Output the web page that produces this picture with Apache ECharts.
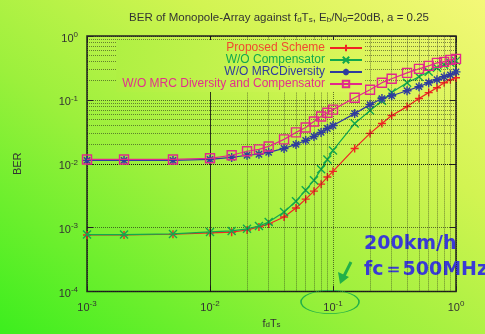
<!DOCTYPE html>
<html>
<head>
<meta charset="utf-8">
<script src="https://cdn.jsdelivr.net/npm/echarts@6/dist/echarts.min.js"></script>
<style>
  html, body { margin: 0; padding: 0; }
  #chart {
    width: 485px; height: 334px;
    background: linear-gradient(to top right, #3cee1e 0%, #9cf03c 40%, #d2f452 70%, #f4f878 100%);
  }
</style>
</head>
<body>
<div id="chart"></div>
<script>
// fdTs values (x axis)
const fdTs = [0.001, 0.002, 0.005, 0.01, 0.015, 0.02, 0.025, 0.03, 0.04, 0.05, 0.06, 0.07, 0.08, 0.09,
  0.1, 0.15, 0.2, 0.25, 0.3, 0.4, 0.5, 0.6, 0.7, 0.8, 0.9, 1.0];

// BER curves
const berProposed = [0.00077, 0.00077, 0.00079, 0.00083, 0.00085, 0.00092, 0.00103, 0.00114, 0.00147, 0.00203,
  0.0028, 0.00373, 0.0048, 0.0062, 0.0076, 0.0174, 0.0299, 0.0427, 0.0569, 0.0785, 0.105, 0.13, 0.155, 0.186, 0.207, 0.222];
const berNoComp = [0.00078, 0.00078, 0.0008, 0.00086, 0.00089, 0.00096, 0.00106, 0.00123, 0.00176, 0.0026,
  0.00387, 0.00554, 0.0082, 0.0117, 0.0162, 0.0427, 0.068, 0.097, 0.13, 0.186, 0.23, 0.275, 0.318, 0.354, 0.38, 0.408];
const berNoMrc = [0.0113, 0.0113, 0.0113, 0.0117, 0.0126, 0.0136, 0.0141, 0.0151, 0.0174, 0.0201,
  0.0232, 0.0268, 0.031, 0.0357, 0.0397, 0.061, 0.0843, 0.105, 0.116, 0.139, 0.161, 0.186, 0.207, 0.23, 0.247, 0.275];
const berNoBoth = [0.0117, 0.0117, 0.0117, 0.0122, 0.0136, 0.0157, 0.0168, 0.0187, 0.0241, 0.031,
  0.037, 0.0458, 0.055, 0.063, 0.0705, 0.108, 0.144, 0.186, 0.214, 0.265, 0.306, 0.341, 0.38, 0.394, 0.423, 0.438];

const seriesNames = ['Proposed Scheme', 'W/O Compensator', 'W/O MRCDiversity', 'W/O MRC Diversity and Compensator'];
const lineColors = ['#f02424', '#12a84e', '#2f3c9e', '#e2288c'];
const textColors = ['#f04a30', '#12a84e', '#2f3c9e', '#e2308c'];

// minor grid positions (2..9 x 10^k)
const minorX = [];
for (let k = -3; k < 0; k++) for (let m = 2; m <= 9; m++) minorX.push(+(m * Math.pow(10, k)).toPrecision(3));
const minorY = [];
for (let k = -4; k < 0; k++) for (let m = 2; m <= 9; m++) minorY.push(+(m * Math.pow(10, k)).toPrecision(3));

const symPlus = 'path://M0,5L10,5M5,0L5,10';
const symCross = 'path://M0,0L10,10M0,10L10,0';
const symStar = 'path://M0,5L10,5M5,0L5,10M1.5,1.5L8.5,8.5M1.5,8.5L8.5,1.5';

const font = 'Liberation Sans, Arial, sans-serif';
const powRich = {
  b: { fontSize: 11, lineHeight: 16, color: '#333', fontFamily: font },
  sup: { fontSize: 8, lineHeight: 8, verticalAlign: 'top', color: '#333', fontFamily: font }
};
function powLabel(v) {
  return '{b|10}{sup|' + Math.round(Math.log10(v)) + '}';
}

function mkSeries(i, data, symbol, size) {
  return {
    name: seriesNames[i], type: 'line',
    data: fdTs.map((x, j) => [x, data[j]]),
    symbol: symbol, symbolSize: size,
    lineStyle: { color: lineColors[i], width: 1.2 },
    itemStyle: { color: 'rgba(0,0,0,0)', borderColor: lineColors[i], borderWidth: 1.4 },
    z: 3 + i
  };
}

const gridLine = { type: 'dotted', color: 'rgba(20,20,20,0.6)', width: 1 };

const chart = echarts.init(document.getElementById('chart'));
chart.setOption({
  animation: false,
  title: {
    text: 'BER of Monopole-Array against f{s|d}T{s|s}, E{s|b}/N{s|0}=20dB, a = 0.25',
    left: 274, top: 7, textAlign: 'center',
    textStyle: {
      fontSize: 11.5, fontWeight: 'normal', color: '#333', fontFamily: font,
      rich: {
        s: { fontSize: 8, lineHeight: 8, verticalAlign: 'bottom', color: '#333', fontFamily: font }
      }
    }
  },
  grid: {
    left: 87, right: 29, top: 36, bottom: 41,
    show: true, borderColor: '#222', borderWidth: 1.5
  },
  legend: {
    orient: 'vertical', right: 120, top: 40, align: 'right', z: 10,
    itemWidth: 32, itemHeight: 8, itemGap: 0,
    padding: [2, 2, 2, 6],
    backgroundColor: new echarts.graphic.LinearGradient(0, 1, 1, 0, [
      { offset: 0, color: '#aef042' }, { offset: 1, color: '#def65c' }
    ]),
    textStyle: { fontSize: 12, lineHeight: 10, fontFamily: font },
    data: seriesNames.map((n, i) => ({ name: n, textStyle: { color: textColors[i] } }))
  },
  xAxis: [{
    type: 'log', logBase: 10, min: 0.001, max: 1,
    name: 'f{s|d}T{s|s}', nameLocation: 'middle', nameGap: 24,
    nameTextStyle: {
      fontSize: 11, color: '#333', fontFamily: font,
      rich: { s: { fontSize: 8, lineHeight: 8, verticalAlign: 'bottom', color: '#333' } }
    },
    axisLine: { show: false },
    axisTick: { inside: true, length: 6, lineStyle: { color: '#222' } },
    axisLabel: { formatter: powLabel, rich: powRich, margin: 8 },
    splitLine: { show: true, lineStyle: gridLine }
  }, {
    type: 'log', logBase: 10, min: 0.001, max: 1, position: 'top',
    axisLine: { show: false },
    axisTick: { inside: true, length: 6, lineStyle: { color: '#222' } },
    axisLabel: { show: false }, splitLine: { show: false }
  }],
  yAxis: [{
    type: 'log', logBase: 10, min: 0.0001, max: 1,
    name: 'BER', nameLocation: 'middle', nameGap: 64, nameRotate: 90,
    nameTextStyle: { fontSize: 11, color: '#333', fontFamily: font },
    axisLine: { show: false },
    axisTick: { inside: true, length: 6, lineStyle: { color: '#222' } },
    axisLabel: { formatter: powLabel, rich: powRich, margin: 9, padding: [5, 0, 0, 0] },
    splitLine: { show: true, lineStyle: gridLine }
  }, {
    type: 'log', logBase: 10, min: 0.0001, max: 1, position: 'right',
    axisLine: { show: false },
    axisTick: { inside: true, length: 6, lineStyle: { color: '#222' } },
    axisLabel: { show: false }, splitLine: { show: false }
  }],
  series: [
    {
      type: 'line', data: [], silent: true, z: 1,
      markLine: {
        silent: true, symbol: ['none', 'none'], label: { show: false },
        lineStyle: { type: 'dotted', color: 'rgba(20,20,20,0.5)', width: 1 },
        data: minorX.map(v => ({ xAxis: v })).concat(minorY.map(v => ({ yAxis: v })))
      }
    },
    mkSeries(0, berProposed, symPlus, 8),
    mkSeries(1, berNoComp, symCross, 8),
    mkSeries(2, berNoMrc, symStar, 9),
    mkSeries(3, berNoBoth, 'rect', 9)
  ],
  graphic: [
    { type: 'text', left: 364, top: 235,
      style: { text: '200km/h', fontSize: 19, fontWeight: 'bold', fill: '#3a3ad6', fontFamily: 'DejaVu Sans, sans-serif' } },
    { type: 'text', left: 364, top: 261,
      style: { text: 'fc＝500MHz', fontSize: 19, fontWeight: 'bold', fill: '#3a3ad6', fontFamily: 'DejaVu Sans, sans-serif' } },
    { type: 'line', shape: { x1: 351, y1: 262, x2: 344, y2: 276 },
      style: { stroke: '#22b048', lineWidth: 3 } },
    { type: 'polygon', shape: { points: [[340, 284], [338, 272], [349, 277]] },
      style: { fill: '#22b048' } },
    { type: 'circle', x: 330, y: 302, scaleY: 0.4, shape: { cx: 0, cy: 0, r: 29 },
      style: { fill: 'none', stroke: '#22b048', lineWidth: 1.6 } }
  ]
});
</script>
</body>
</html>
